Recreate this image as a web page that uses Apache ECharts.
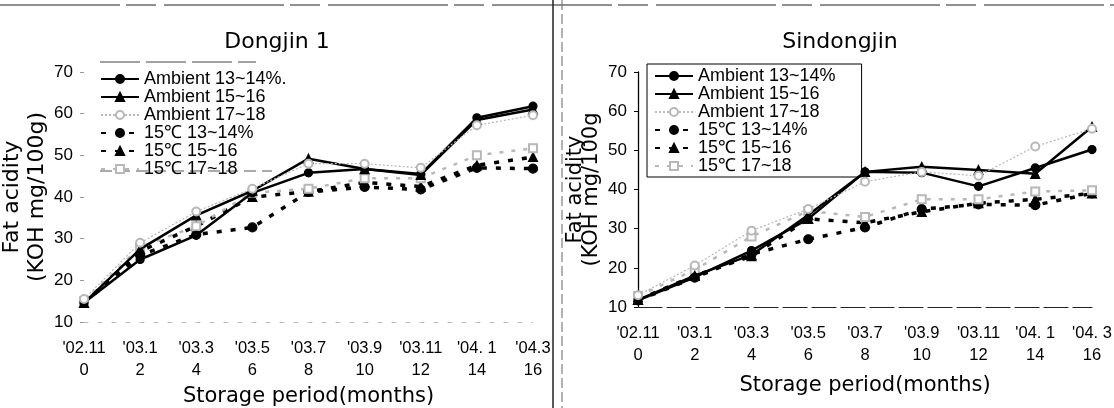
<!DOCTYPE html>
<html>
<head>
<meta charset="utf-8">
<script src="https://cdn.jsdelivr.net/npm/echarts@6/dist/echarts.min.js"></script>
<style>
html, body { margin: 0; padding: 0; background: #fff; }
#main { width: 1114px; height: 408px; }
</style>
</head>
<body>
<div id="main"></div>
<script>
// storage months and the sampling dates under them
const months = ['0', '2', '4', '6', '8', '10', '12', '14', '16'];
const datesLeft = ["'02.11", "'03.1", "'03.3", "'03.5", "'03.7", "'03.9", "'03.11", "'04. 1", "'04.3"];
const datesRight = ["'02.11", "'03.1", "'03.3", "'03.5", "'03.7", "'03.9", "'03.11", "'04. 1", "'04. 3"];
const yTicks = [10, 20, 30, 40, 50, 60, 70];

const namesLeft = ['Ambient 13~14%.', 'Ambient 15~16', 'Ambient 17~18', '15℃ 13~14%', '15℃ 15~16', '15℃ 17~18'];
const namesRight = ['Ambient 13~14%', 'Ambient 15~16 ', 'Ambient 17~18 ', '15℃ 13~14% ', '15℃ 15~16 ', '15℃ 17~18 '];

// Dongjin 1 - fat acidity (KOH mg/100g)
const dongjinAmb1314 = [14.6, 25, 30.8, 41, 45.8, 46.7, 45.5, 59, 61.8];
const dongjinAmb1516 = [14.6, 27.5, 35.6, 41.5, 49.2, 46.7, 45.3, 58.5, 61];
const dongjinAmb1718 = [15.5, 29, 36.5, 42, 48, 48, 47, 57.2, 59.6];
const dongjin15c1314 = [14.6, 26, 31, 32.7, 41.2, 42.4, 41.8, 47, 46.8];
const dongjin15c1516 = [14.6, 27, 33, 40, 41.3, 43.5, 42.5, 47.6, 49.6];
const dongjin15c1718 = [15, 28, 33, 41, 42, 44.5, 44.5, 50, 51.7];

// Sindongjin - fat acidity (KOH mg/100g)
const sinAmb1314 = [11.7, 17.6, 24.4, 32.5, 44.5, 44.3, 40.8, 45.5, 50.2];
const sinAmb1516 = [11.8, 18, 23.3, 33.5, 44.5, 45.8, 45, 44, 56];
const sinAmb1718 = [13, 20.6, 29.5, 35, 42, 44.5, 43.5, 51, 55.5];
const sin15c1314 = [11.7, 17.5, 23.5, 27.3, 30.3, 35, 36.2, 36, 39];
const sin15c1516 = [11.8, 18, 23, 32.5, 31.5, 34.3, 36.5, 37.5, 39];
const sin15c1718 = [12.8, 19.5, 28, 34.5, 33, 37.5, 37.5, 39.5, 39.8];

const dongjin = [dongjinAmb1314, dongjinAmb1516, dongjinAmb1718, dongjin15c1314, dongjin15c1516, dongjin15c1718];
const sindongjin = [sinAmb1314, sinAmb1516, sinAmb1718, sin15c1314, sin15c1516, sin15c1718];

const tickFont = 'Liberation Sans';
const textFont = 'DejaVu Sans';

// line look for each of the six treatments
function look(i) {
  const gray = '#b8b8b8';
  const looks = [
    { symbol: 'circle', size: 8, color: '#000', line: { color: '#000', width: 2.5, type: 'solid' } },
    { symbol: 'triangle', size: 9, color: '#000', line: { color: '#000', width: 2.5, type: 'solid' } },
    { symbol: 'emptyCircle', size: 8, color: gray, line: { color: gray, width: 1.2, type: [2, 2] } },
    { symbol: 'circle', size: 9, color: '#000', line: { color: '#000', width: 3.5, type: [5, 9] } },
    { symbol: 'triangle', size: 9, color: '#000', line: { color: '#000', width: 3.5, type: [5, 9] } },
    { symbol: 'emptyRect', size: 8, color: gray, line: { color: gray, width: 2.5, type: [4, 8] } }
  ];
  return looks[i];
}

function buildSeries(names, data, idx) {
  return names.map(function (n, i) {
    const l = look(i);
    return {
      name: n,
      type: 'line',
      xAxisIndex: idx,
      yAxisIndex: idx,
      data: data[i],
      symbol: l.symbol,
      symbolSize: l.size,
      itemStyle: { color: l.color, borderColor: l.color, borderWidth: 1.2 },
      lineStyle: l.line,
      z: i < 3 ? 3 : 2,
      animation: false
    };
  });
}

function xAxis(idx, dates, margin, nameGap, lineShow) {
  return {
    type: 'category',
    gridIndex: idx,
    data: months,
    boundaryGap: false,
    axisLine: { show: true, lineStyle: lineShow },
    axisTick: { show: false },
    axisLabel: {
      interval: 0,
      margin: margin,
      color: '#000',
      fontFamily: tickFont,
      fontSize: 16.5,
      lineHeight: 22,
      formatter: function (v, i) { return dates[i] + '\n' + v; }
    },
    splitLine: { show: false },
    name: 'Storage period(months)',
    nameLocation: 'middle',
    nameGap: nameGap,
    nameTextStyle: { color: '#000', fontFamily: textFont, fontSize: 21 }
  };
}

function yAxis(idx, axisShow, nameGap, nameSize, nameLine, nameText) {
  return {
    type: 'value',
    gridIndex: idx,
    min: 10,
    max: 70,
    interval: 10,
    axisLine: { show: axisShow, lineStyle: { color: '#000', width: 1.3 } },
    axisTick: { show: true, length: 4, lineStyle: { color: axisShow ? '#000' : '#999' } },
    axisLabel: {
      margin: 11,
      color: '#000',
      fontFamily: tickFont,
      fontSize: 17,
      formatter: function (v) { return yTicks.indexOf(v) >= 0 ? String(v) : ''; }
    },
    splitLine: { show: false },
    name: nameText,
    nameLocation: 'middle',
    nameRotate: 90,
    nameGap: nameGap,
    nameTextStyle: { color: '#000', fontFamily: textFont, fontSize: nameSize, lineHeight: nameLine }
  };
}

const chart = echarts.init(document.getElementById('main'), null, { renderer: 'canvas' });

chart.setOption({
  backgroundColor: '#fff',
  animation: false,
  grid: [
    { left: 84, top: 72, width: 449, height: 250, outerBoundsMode: 'none', containLabel: false },
    { left: 638, top: 72, width: 454, height: 235, outerBoundsMode: 'none', containLabel: false }
  ],
  xAxis: [
    xAxis(0, datesLeft, 15, 60, { color: '#bbb', width: 1, type: [4, 10] }),
    xAxis(1, datesRight, 15, 68, { color: '#222', width: 1.2, type: [24, 5] })
  ],
  yAxis: [
    yAxis(0, false, 25, 22, 25, 'Fat acidity\n(KOH mg/100g)'),
    yAxis(1, true, 38, 21, 16, 'Fat acidity\n(KOH mg/100g')
  ],
  legend: [
    {
      data: namesLeft,
      orient: 'vertical',
      left: 100,
      top: 70,
      padding: 0,
      itemGap: 0,
      itemWidth: 38,
      itemHeight: 10,
      textStyle: { color: '#000', fontFamily: tickFont, fontSize: 18, lineHeight: 17.3 }
    },
    {
      data: namesRight,
      orient: 'vertical',
      left: 647,
      top: 64,
      padding: [3, 26, 2, 7],
      itemGap: 0,
      itemWidth: 38,
      itemHeight: 10,
      borderColor: '#000',
      borderWidth: 1,
      textStyle: { color: '#000', fontFamily: tickFont, fontSize: 18, lineHeight: 17 }
    }
  ],
  graphic: [
    { type: 'text', x: 277, y: 42, style: { text: 'Dongjin 1', textAlign: 'center', textVerticalAlign: 'middle', fontFamily: textFont, fontSize: 22, fill: '#000' } },
    { type: 'text', x: 840, y: 42, style: { text: 'Sindongjin', textAlign: 'center', textVerticalAlign: 'middle', fontFamily: textFont, fontSize: 22, fill: '#000' } },
    { type: 'line', shape: { x1: 0, y1: 5, x2: 1114, y2: 5 }, style: { stroke: '#222', lineWidth: 1.2, lineDash: [120, 6, 30, 8] } },
    { type: 'line', shape: { x1: 553, y1: 0, x2: 553, y2: 408 }, style: { stroke: '#222', lineWidth: 1.5 } },
    { type: 'line', shape: { x1: 562, y1: 0, x2: 562, y2: 408 }, style: { stroke: '#666', lineWidth: 1, lineDash: [10, 4] } },
    { type: 'line', shape: { x1: 100, y1: 62, x2: 256, y2: 62 }, style: { stroke: '#444', lineWidth: 1, lineDash: [40, 6] } },
    { type: 'line', shape: { x1: 100, y1: 171, x2: 272, y2: 171 }, style: { stroke: '#555', lineWidth: 1, lineDash: [12, 6] } }
  ],
  series: buildSeries(namesLeft, dongjin, 0).concat(buildSeries(namesRight, sindongjin, 1))
});
</script>
</body>
</html>
